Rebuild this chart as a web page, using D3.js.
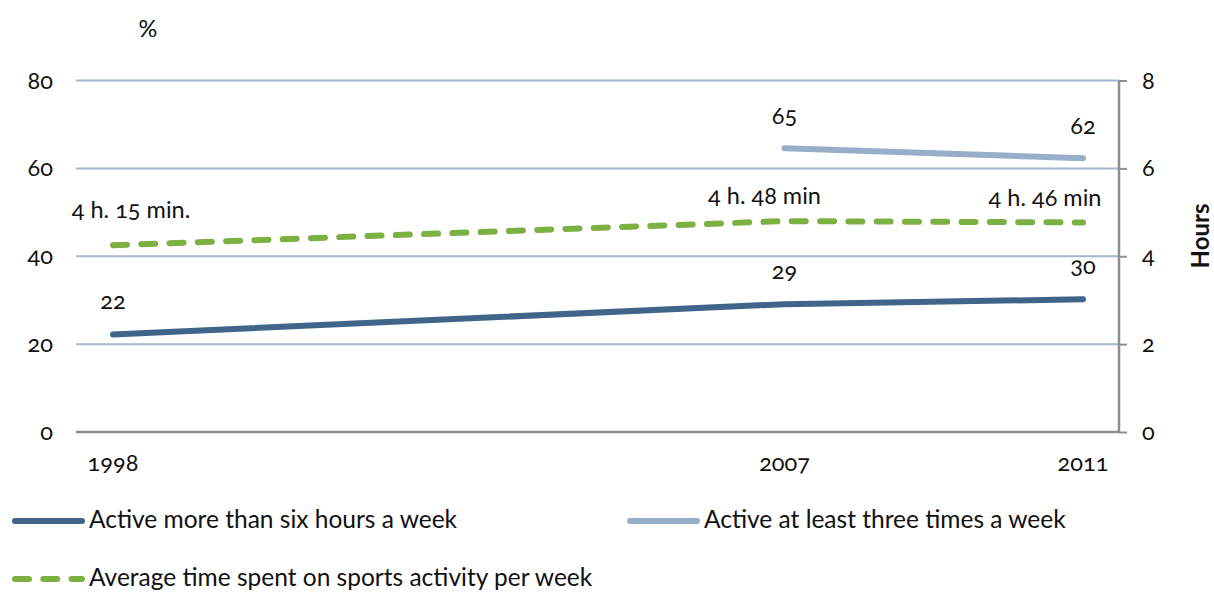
<!DOCTYPE html>
<html><head><meta charset="utf-8">
<script src="https://cdn.jsdelivr.net/npm/d3@7"></script>
<style>
body{margin:0;background:#fff;}
svg text{font-family:Lato,"Open Sans",sans-serif;fill:#111;font-variant-numeric:oldstyle-nums;}
</style></head>
<body><svg id="c" width="1214" height="592"></svg>
<script>
const years = [1998, 2007, 2011];
const activeSix = [22.2, 29.1, 30.2];
const activeSixLabels = ["22", "29", "30"];
const activeThree = [null, 64.6, 62.3];
const activeThreeLabels = ["", "65", "62"];
const avgHours = [4.25, 4.8, 4.77];
const avgHoursLabels = ["4 h. 15 min.", "4 h. 48 min", "4 h. 46 min"];
const leftTicks = [0, 20, 40, 60, 80];
const rightTicks = [0, 2, 4, 6, 8];
const seriesNames = ["Active more than six hours a week", "Active at least three times a week", "Average time spent on sports activity per week"];
const colors = ["#41648a", "#97aecb", "#7cb042"];

const FS = 23.5;
const svg = d3.select("#c");
const L = 76, R = 1119, T = 80.5, B = 432;
const x = d3.scaleLinear().domain([1998, 2011]).range([113, 1083]);
const yL = d3.scaleLinear().domain([0, 80]).range([B, T]);
const yR = d3.scaleLinear().domain([0, 8]).range([B, T]);

// gridlines
svg.append("g").selectAll("line").data(leftTicks.filter(d => d > 0)).join("line")
  .attr("x1", L).attr("x2", R).attr("y1", d => yL(d)).attr("y2", d => yL(d))
  .attr("stroke", "#a3b6d2").attr("stroke-width", 2);

// bottom axis line
svg.append("line").attr("x1", L).attr("x2", R).attr("y1", B).attr("y2", B)
  .attr("stroke", "#8e8e91").attr("stroke-width", 2.5);

// right axis
const ra = svg.append("g").attr("transform", `translate(${R},0)`)
  .call(d3.axisRight(yR).tickValues(rightTicks).tickSize(8).tickPadding(15).tickFormat(d3.format("d")));
ra.select(".domain").attr("stroke", "#8e8e91").attr("stroke-width", 2.5).attr("d", `M0,${T}V${B}`);
ra.selectAll(".tick line").attr("stroke", "#8e8e91").attr("stroke-width", 2);
ra.selectAll(".tick text").attr("font-size", FS).attr("font-family", "Lato").attr("fill", "#111");

// left axis labels
const la = svg.append("g").attr("transform", `translate(${L},0)`)
  .call(d3.axisLeft(yL).tickValues(leftTicks).tickSize(0).tickPadding(23).tickFormat(d3.format("d")));
la.select(".domain").remove();
la.selectAll(".tick text").attr("font-size", FS).attr("font-family", "Lato").attr("fill", "#111");

// x labels
svg.append("g").selectAll("text").data(years).join("text")
  .attr("x", d => x(d)).attr("y", 471).attr("text-anchor", "middle")
  .attr("font-size", FS).text(d => d);

// axis titles
svg.append("text").attr("x", 148).attr("y", 37).attr("text-anchor", "middle").attr("font-size", FS).text("%");
svg.append("text").attr("transform", "translate(1209,236) rotate(-90)").attr("text-anchor", "middle")
  .attr("font-size", 24).attr("font-weight", "bold").text("Hours");

// lines
const lineL = d3.line().defined(d => d[1] != null).x(d => x(d[0])).y(d => yL(d[1]));
const lineR = d3.line().x(d => x(d[0])).y(d => yR(d[1]));
svg.append("path").datum(years.map((y, i) => [y, activeThree[i]]))
  .attr("d", lineL).attr("fill", "none").attr("stroke", colors[1]).attr("stroke-width", 6).attr("stroke-linecap", "round");
svg.append("path").datum(years.map((y, i) => [y, activeSix[i]]))
  .attr("d", lineL).attr("fill", "none").attr("stroke", colors[0]).attr("stroke-width", 6).attr("stroke-linecap", "round");
svg.append("path").datum(years.map((y, i) => [y, avgHours[i]]))
  .attr("d", lineR).attr("fill", "none").attr("stroke", colors[2]).attr("stroke-width", 6)
  .attr("stroke-linecap", "round").attr("stroke-dasharray", "14,14.3");

// data labels
const lab = (xx, yy, t, anchor) => svg.append("text").attr("x", xx).attr("y", yy)
  .attr("text-anchor", anchor || "middle").attr("font-size", FS).text(t);
years.forEach((y, i) => {
  lab(x(y), yL(activeSix[i]) - 25, activeSixLabels[i]);
  if (activeThree[i] != null) lab(x(y), yL(activeThree[i]) - 24, activeThreeLabels[i]);
});
lab(x(years[0]) + 18, yR(avgHours[0]) - 27, avgHoursLabels[0]);
lab(x(years[1]) - 20, yR(avgHours[1]) - 17, avgHoursLabels[1]);
lab(x(years[2]) - 38, yR(avgHours[2]) - 16, avgHoursLabels[2]);

// legend
const leg = [
  {x: 15, y: 521, i: 0, dash: null},
  {x: 630, y: 521, i: 1, dash: null},
  {x: 15, y: 579, i: 2, dash: "14,14.3"}
];
leg.forEach(d => {
  svg.append("line").attr("x1", d.x).attr("x2", d.x + 67).attr("y1", d.y).attr("y2", d.y)
    .attr("stroke", colors[d.i]).attr("stroke-width", 6).attr("stroke-linecap", "round")
    .attr("stroke-dasharray", d.dash);
  svg.append("text").attr("x", d.x + 74).attr("y", d.y + 7).attr("font-size", 24.5).text(seriesNames[d.i]);
});
</script></body></html>
